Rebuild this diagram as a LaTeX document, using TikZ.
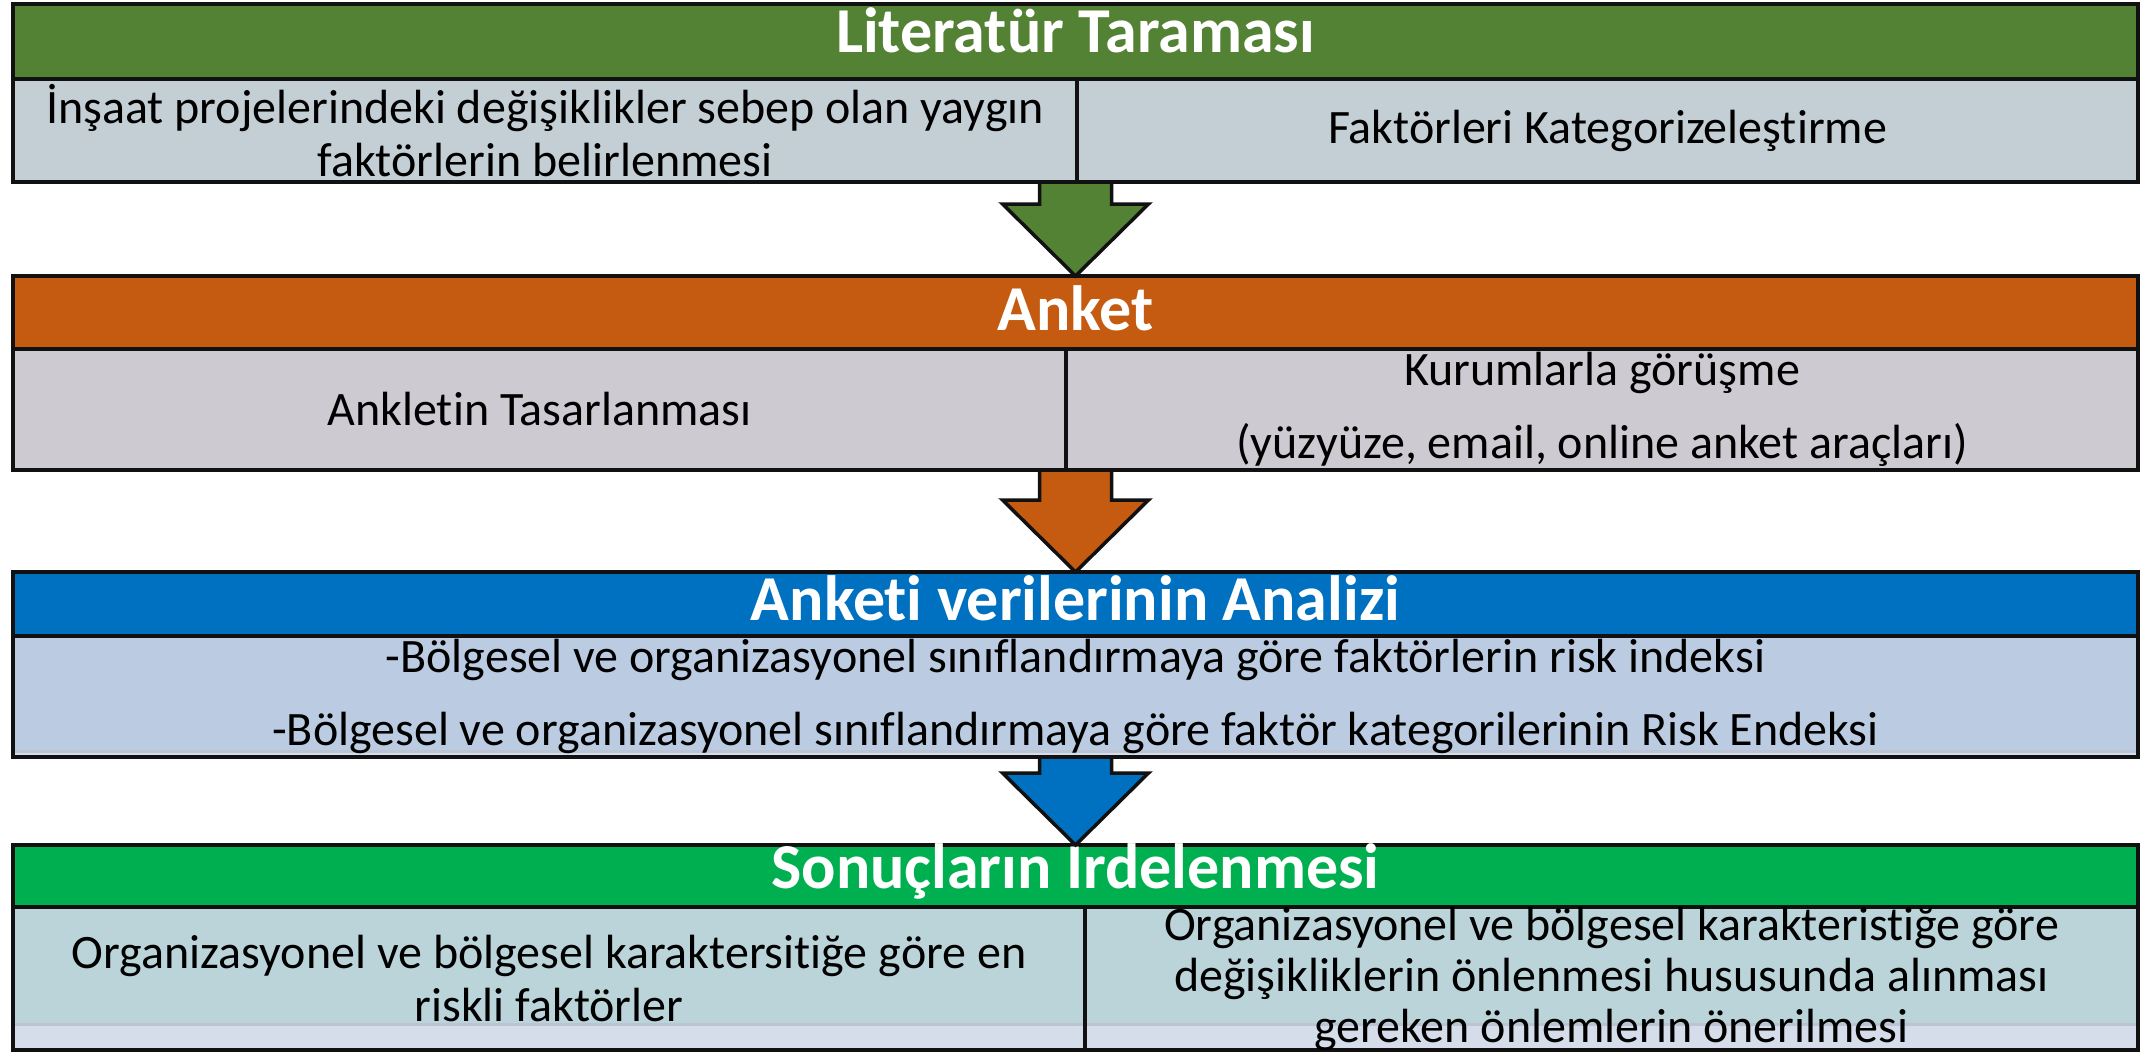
\documentclass[tikz,border=0pt]{standalone}
\usepackage{fontspec}
\setmainfont[Ligatures=NoCommon]{Carlito}
\usepackage{xcolor}
\usetikzlibrary{positioning, calc}
\definecolor{litgreen}{HTML}{548235}
\definecolor{litrow}{HTML}{C4CFD5}
\definecolor{anketorange}{HTML}{C55A11}
\definecolor{anketrow}{HTML}{CDCAD2}
\definecolor{analizblue}{HTML}{0070C0}
\definecolor{analizrow}{HTML}{BBCCE2}
\definecolor{sonucgreen}{HTML}{00B050}
\definecolor{sonucrow}{HTML}{BAD4DA}
\definecolor{bandfill}{HTML}{D5DCEA}
\definecolor{bandline}{HTML}{BCC4D4}
\definecolor{edge}{HTML}{111111}

% block arrow from box bottom (#1) to tip (#2)
\newcommand{\flowarrow}[3]{%
  \draw[blockarrow, fill=#3] ($(#1)+(-36pt,-2pt)$) -- ($(#2)+(-36pt,72pt)$) -- ($(#2)+(-73pt,72pt)$) -- (#2)
    -- ($(#2)+(73pt,72pt)$) -- ($(#2)+(36pt,72pt)$) -- ($(#1)+(36pt,-2pt)$);}

\begin{document}
\begin{tikzpicture}[
        header/.style={rectangle, draw=edge, fill=#1, line width=4pt, outer sep=0pt, minimum width=2125pt, inner sep=0pt, text=white, text height=41pt, font=\fontsize{64}{72}\selectfont\bfseries},
        cell/.style={rectangle, draw=edge, fill=#1, line width=3.5pt, outer sep=0pt, inner sep=0pt, align=center, font=\fontsize{48}{53}\selectfont},
        band/.style={path picture={
            \fill[bandfill] (path picture bounding box.south west) rectangle ([yshift=#1]path picture bounding box.south east);
            \fill[bandline] ([yshift=#1-3pt]path picture bounding box.south west) rectangle ([yshift=#1]path picture bounding box.south east);}},
        blockarrow/.style={draw=edge, line width=3.5pt, line join=miter}
    ]
    \useasboundingbox (0,0) rectangle (2141pt,-1053pt);

    % Literatür Taraması
    \node[header=litgreen, minimum height=75pt, text depth=19pt, anchor=north west] (lit) at (13pt,-4pt) {Literatür Taraması};
    \node[cell=litrow, minimum width=1064pt, minimum height=103pt, below right=0pt and 0pt of lit.south west] (litL) {İnşaat projelerindeki değişiklikler sebep olan yaygın\\faktörlerin belirlenmesi};
    \node[cell=litrow, minimum width=1061pt, minimum height=103pt, right=0pt of litL] (litR) {Faktörleri Kategorizeleştirme};

    % Anket
    \node[header=anketorange, minimum height=73pt, text depth=5pt, below right=94pt and 0pt of litL.south west] (anket) {Anket};
    \node[cell=anketrow, minimum width=1053pt, minimum height=121pt, below right=0pt and 0pt of anket.south west] (anketL) {Ankletin Tasarlanması};
    \node[cell=anketrow, minimum width=1072pt, minimum height=121pt, right=0pt of anketL] (anketR) {Kurumlarla görüşme\\[20pt](yüzyüze, email, online anket araçları)};

    % Anketi verilerinin Analizi
    \node[header=analizblue, minimum height=64pt, text depth=8pt, below right=102pt and 0pt of anketL.south west] (analiz) {Anketi verilerinin Analizi};
    \node[cell=analizrow, band=7pt, minimum width=2125pt, minimum height=121pt, below right=0pt and 0pt of analiz.south west] (analizL) {-Bölgesel ve organizasyonel sınıflandırmaya göre faktörlerin risk indeksi\\[20pt]-Bölgesel ve organizasyonel sınıflandırmaya göre faktör kategorilerinin Risk Endeksi};

    % Sonuçların İrdelenmesi
    \node[header=sonucgreen, minimum height=62pt, text depth=16pt, below right=88pt and 0pt of analizL.south west] (sonuc) {Sonuçların İrdelenmesi};
    \node[cell=sonucrow, band=27pt, minimum width=1072pt, minimum height=143pt, below right=0pt and 0pt of sonuc.south west] (sonucL) {Organizasyonel ve bölgesel karaktersitiğe göre en\\riskli faktörler};
    \node[cell=sonucrow, band=27pt, align=flush center, text width=1053pt, text height=33pt, text depth=110pt, font=\fontsize{48}{51}\selectfont, right=0pt of sonucL] (sonucR) {Organizasyonel ve bölgesel karakteristiğe göre\\değişikliklerin önlenmesi hususunda alınması\\gereken önlemlerin önerilmesi};

    % arrows between stages
    \coordinate (a1) at (litL.south -| lit.center);
    \coordinate (a2) at (anketL.south -| anket.center);
    \coordinate (a3) at (analizL.south -| analiz.center);
    \flowarrow{a1}{anket.north}{litgreen}
    \flowarrow{a2}{analiz.north}{anketorange}
    \flowarrow{a3}{sonuc.north}{analizblue}

\end{tikzpicture}
\end{document}
